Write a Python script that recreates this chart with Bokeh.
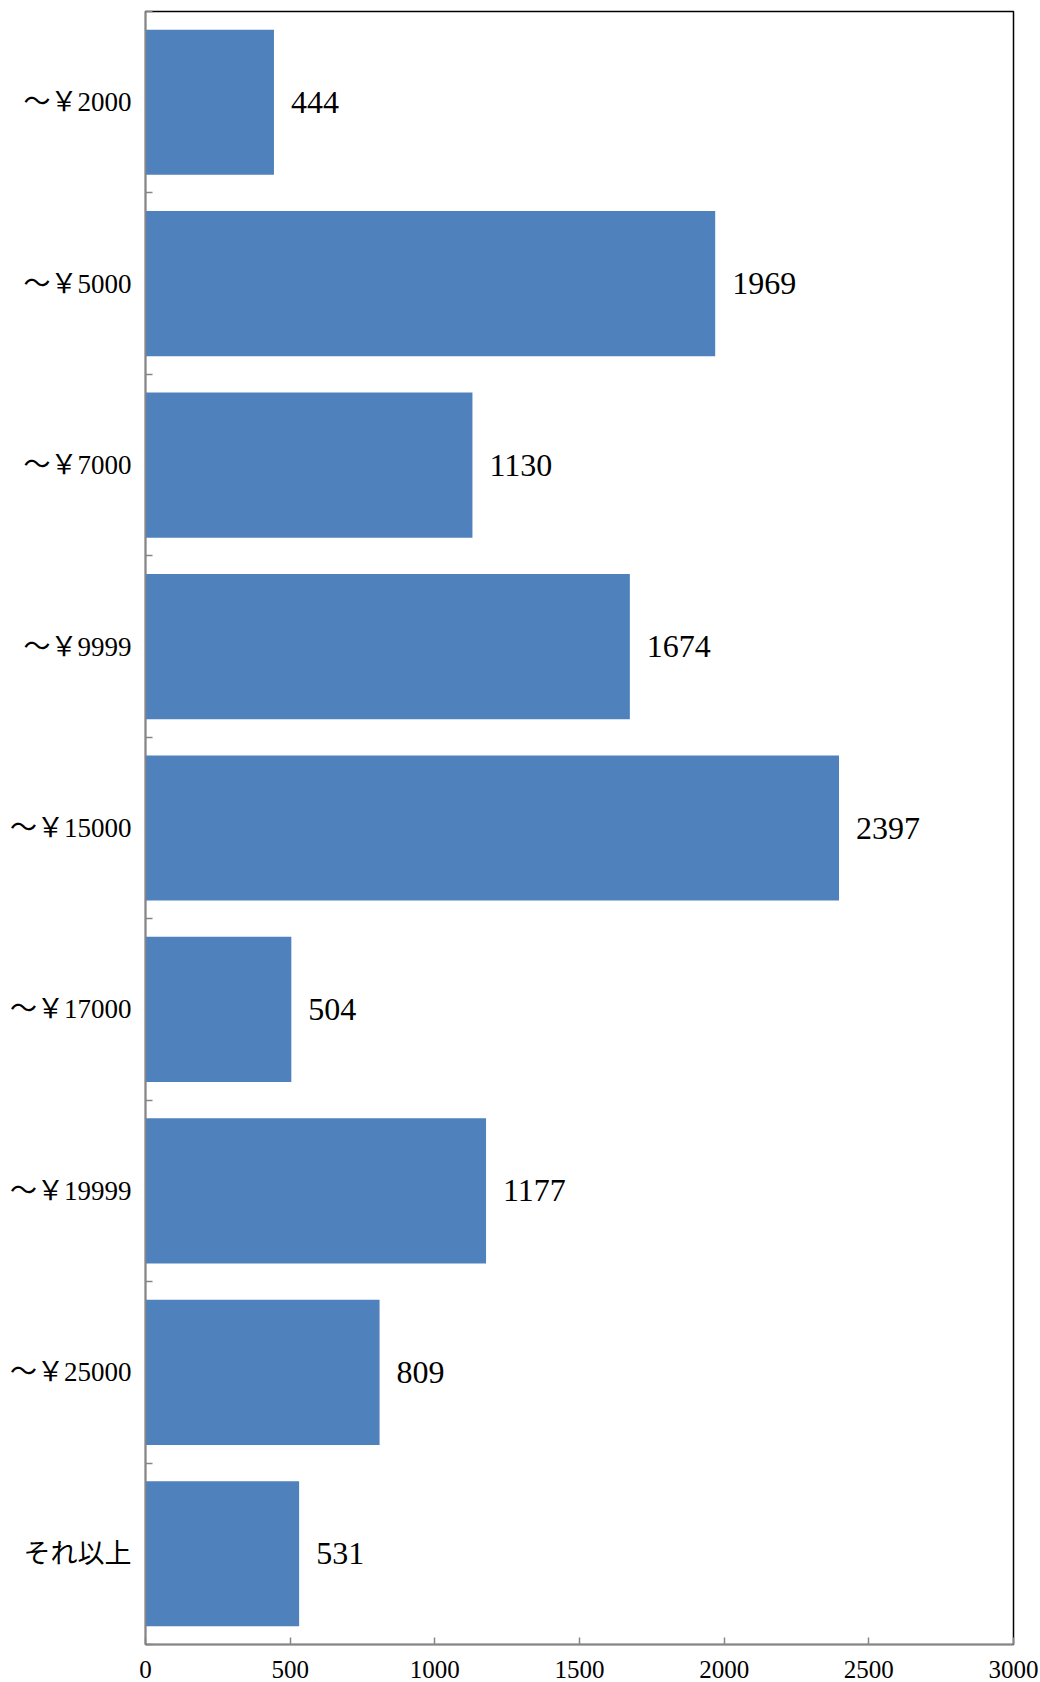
from bokeh.plotting import figure
from bokeh.models import Range1d, FixedTicker, ColumnDataSource
from bokeh.core.properties import value
from bokeh.embed import file_html
from bokeh.resources import INLINE

categories = ["～￥2000", "～￥5000", "～￥7000", "～￥9999", "～￥15000",
              "～￥17000", "～￥19999", "～￥25000", "それ以上"]
counts = [444, 1969, 1130, 1674, 2397, 504, 1177, 809, 531]
x_ticks = [0, 500, 1000, 1500, 2000, 2500, 3000]

n = len(categories)
centers = [i + 0.5 for i in range(n)]
src = ColumnDataSource(dict(y=centers, v=counts, lab=[str(c) for c in counts]))

FONT = "Liberation Serif, Noto Sans CJK JP"

p = figure(width=1040, height=1682, output_backend="svg", toolbar_location=None,
           x_range=Range1d(0, 3000), y_range=Range1d(n, 0),
           min_border_left=145, min_border_right=27, min_border_top=11, min_border_bottom=38)
p.grid.visible = False
p.outline_line_color = "black"
p.outline_line_width = 1.5
p.background_fill_color = "white"
p.border_fill_color = "white"

p.hbar(y="y", right="v", left=0, height=0.8, source=src,
       fill_color="#4F81BD", line_color=None)
p.text(x="v", y="y", text="lab", source=src, x_offset=17, text_baseline="middle",
       text_align="left", text_font=value("Liberation Serif"), text_font_size="32px",
       text_color="black")

# y axis
ya = p.yaxis[0]
ya.ticker = FixedTicker(ticks=centers, minor_ticks=list(range(n + 1)))
ya.major_label_overrides = {c: lab for c, lab in zip(centers, categories)}
ya.major_tick_in = 0
ya.major_tick_out = 0
ya.minor_tick_in = 7
ya.minor_tick_out = 0
ya.minor_tick_line_color = "#868686"
ya.minor_tick_line_width = 1.5
ya.axis_line_color = "#868686"
ya.axis_line_width = 1.5
ya.major_label_text_font = FONT
ya.major_label_text_font_size = "27px"
ya.major_label_text_color = "black"
ya.major_label_standoff = 14

# x axis
xa = p.xaxis[0]
xa.ticker = FixedTicker(ticks=x_ticks)
xa.major_tick_in = 7
xa.major_tick_out = 0
xa.minor_tick_line_color = None
xa.major_tick_line_color = "#868686"
xa.major_tick_line_width = 1.5
xa.axis_line_color = "#868686"
xa.axis_line_width = 1.5
xa.major_label_text_font = "Liberation Serif"
xa.major_label_text_font_size = "25px"
xa.major_label_text_color = "black"
xa.major_label_standoff = 16

open("out.html", "w").write(file_html(p, INLINE))
